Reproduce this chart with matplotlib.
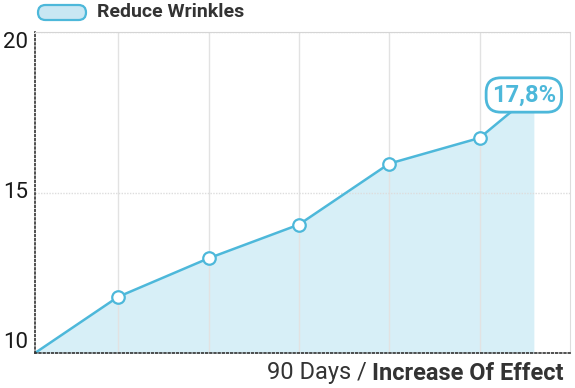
import matplotlib.pyplot as plt
from matplotlib.patches import FancyBboxPatch

plt.rcParams['font.family'] = ['Roboto', 'DejaVu Sans']

# positions along the 90 day period and measured effect
days = [0.08, 1, 2, 3, 4, 5, 5.6]
effect = [10.0, 11.75, 12.95, 14.0, 15.9, 16.7, 18.1]
series_name = "Reduce Wrinkles"
final_label = "17,8%"
y_ticks = [10, 15, 20]

blue = '#4db8da'
fill = '#d7eff7'

fig = plt.figure(figsize=(5.75, 3.88), dpi=100)
ax = fig.add_axes([35 / 575, 1 - 353 / 388, 535 / 575, 321 / 388])

ax.fill_between(days, effect, 10, color=fill, lw=0, zorder=1)
ax.plot(days, effect, color=blue, lw=1.8, zorder=3)
ax.plot(days[1:-1], effect[1:-1], 'o', ms=9, mfc='white', mec=blue, mew=1.6, zorder=4)

ax.set_xlim(0.08, 6.0)
ax.set_ylim(10, 20)
ax.set_yticks(y_ticks)
ax.set_xticks([1, 2, 3, 4, 5])
ax.tick_params(axis='y', length=0, labelsize=16, labelcolor='#1a1a1a', pad=5)
ax.tick_params(axis='x', length=0, labelbottom=False)
for lbl, va in zip(ax.get_yticklabels(), ['bottom', 'center', 'top']):
    lbl.set_va(va)

ax.grid(axis='x', color='#e2e2e2', lw=1, zorder=0)
ax.grid(axis='y', color='#dddddd', lw=1, ls=(0, (1, 1)), zorder=0)

for side in ['left', 'bottom']:
    ax.spines[side].set_linestyle((0, (1, 1.5)))
    ax.spines[side].set_color('#333333')
    ax.spines[side].set_linewidth(1.2)
ax.spines['top'].set_linestyle((0, (1, 1)))
ax.spines['top'].set_color('#d5d5d5')
ax.spines['right'].set_color('#dddddd')
for s in ax.spines.values():
    s.set_zorder(5)

# value label for the last point
ax.annotate(final_label, (days[-1], effect[-1]), xytext=(-10, -2), textcoords='offset pixels',
            ha='center', va='center', fontsize=17, fontweight='bold', color=blue, zorder=6,
            bbox=dict(boxstyle='round,pad=0.24,rounding_size=0.62', fc='white', ec=blue, lw=2))

# legend
fig.patches.append(FancyBboxPatch(
    (38, 388 - 20), 48, 15, boxstyle='round,pad=0,rounding_size=7.5',
    transform=None, fc='#c9e7f3', ec=blue, lw=1.6))
fig.text(97 / 575, 1 - 12 / 388, series_name, fontsize=14, fontweight='bold',
         color='#333333', va='center', ha='left')

# x axis title
t1 = fig.text(564 / 575, 1 - 373 / 388, "Increase Of Effect", fontsize=17, fontweight='bold',
              color='#333333', ha='right', va='center')
fig.canvas.draw()
bb = t1.get_window_extent()
fig.text(bb.x0 / 575, 1 - 373 / 388, "90 Days / ", fontsize=17, color='#333333',
         ha='right', va='center')

fig.savefig('out.png', dpi=100)
